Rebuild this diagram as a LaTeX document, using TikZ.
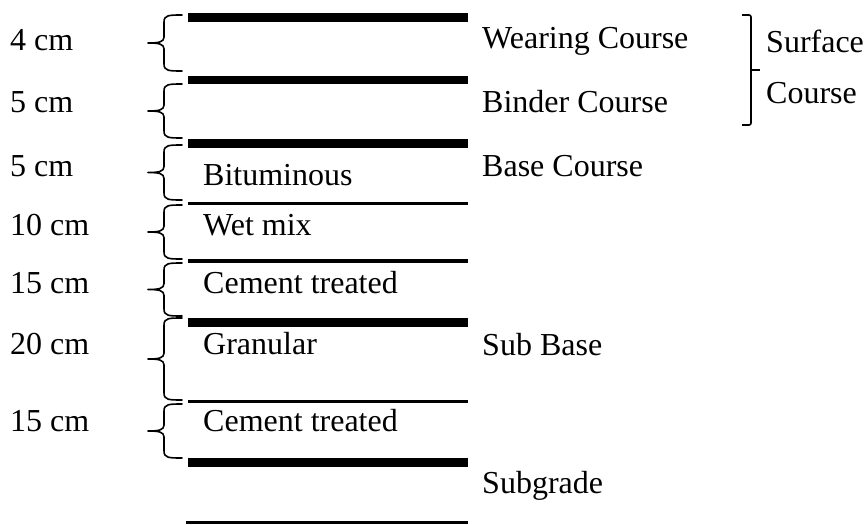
\documentclass[tikz,border=0pt]{standalone}
\usepackage{fontspec}
\setmainfont{Liberation Serif}
\tikzset{
  lbl/.style={anchor=base west, inner sep=0pt, font=\fontsize{32}{37}\selectfont},
  thickline/.style={line width=8.3pt},
  thinline/.style={line width=3.3pt},
  bracestyle/.style={line width=1.6pt, line cap=round, line join=round}
}
\newcommand{\mybrace}[3]{\draw[bracestyle] (182,#1) .. controls (169,#1) and (164,#1) .. (164,#1+7) -- (164,#3-6) .. controls (164,#3-1) and (159,#3) .. (148,#3) .. controls (159,#3) and (164,#3+1) .. (164,#3+6) -- (164,#2-7) .. controls (164,#2) and (169,#2) .. (182,#2);}
\begin{document}
\begin{tikzpicture}[x=1pt,y=-1pt]
\useasboundingbox (0,0) rectangle (866,524);
% layer lines
\draw[thickline] (188,17.5) -- (468,17.5);
\draw[thickline] (188,80) -- (468,80);
\draw[thickline] (188,143.5) -- (468,143.5);
\draw[thinline] (188,203.5) -- (468,203.5);
\draw[thinline] (188,261) -- (468,261);
\draw[thickline] (188,322.5) -- (468,322.5);
\draw[thinline] (188,401.5) -- (468,401.5);
\draw[thickline] (188,462.5) -- (468,462.5);
\draw[thinline] (186,522.7) -- (468,522.7);
% braces
\mybrace{15}{71}{43}
\mybrace{84}{138}{111}
\mybrace{145}{200}{172.5}
\mybrace{205}{259}{232}
\mybrace{263}{316}{289.5}
\mybrace{318}{400}{359}
\mybrace{404}{458}{431}
% surface bracket
\draw[line width=1.6pt, rounded corners=2pt] (742,15) -- (751,15) -- (751,125) -- (742,125);
\draw[line width=1.6pt] (751,70) -- (760,70);
% left labels
\node[lbl] (l1) at (10,51) {4 cm};
\node[lbl] (l2) at (10,112) {5 cm};
\node[lbl] (l3) at (10,176) {5 cm};
\node[lbl] (l4) at (10,235) {10 cm};
\node[lbl] (l5) at (10,293) {15 cm};
\node[lbl] (l6) at (10,354) {20 cm};
\node[lbl] (l7) at (10,431) {15 cm};
% middle labels
\node[lbl] (m1) at (203,185) {Bituminous};
\node[lbl] (m2) at (203,235) {Wet mix};
\node[lbl] (m3) at (203,293) {Cement treated};
\node[lbl] (m4) at (203,354) {Granular};
\node[lbl] (m5) at (203,431) {Cement treated};
% right labels
\node[lbl] (r1) at (482,49) {Wearing Course};
\node[lbl] (r2) at (482,112) {Binder Course};
\node[lbl] (r3) at (482,176) {Base Course};
\node[lbl] (r4) at (482,355) {Sub Base};
\node[lbl] (r5) at (482,493) {Subgrade};
\node[lbl] (s1) at (766,53) {Surface};
\node[lbl] (s2) at (766,103) {Course};
\end{tikzpicture}
\end{document}
